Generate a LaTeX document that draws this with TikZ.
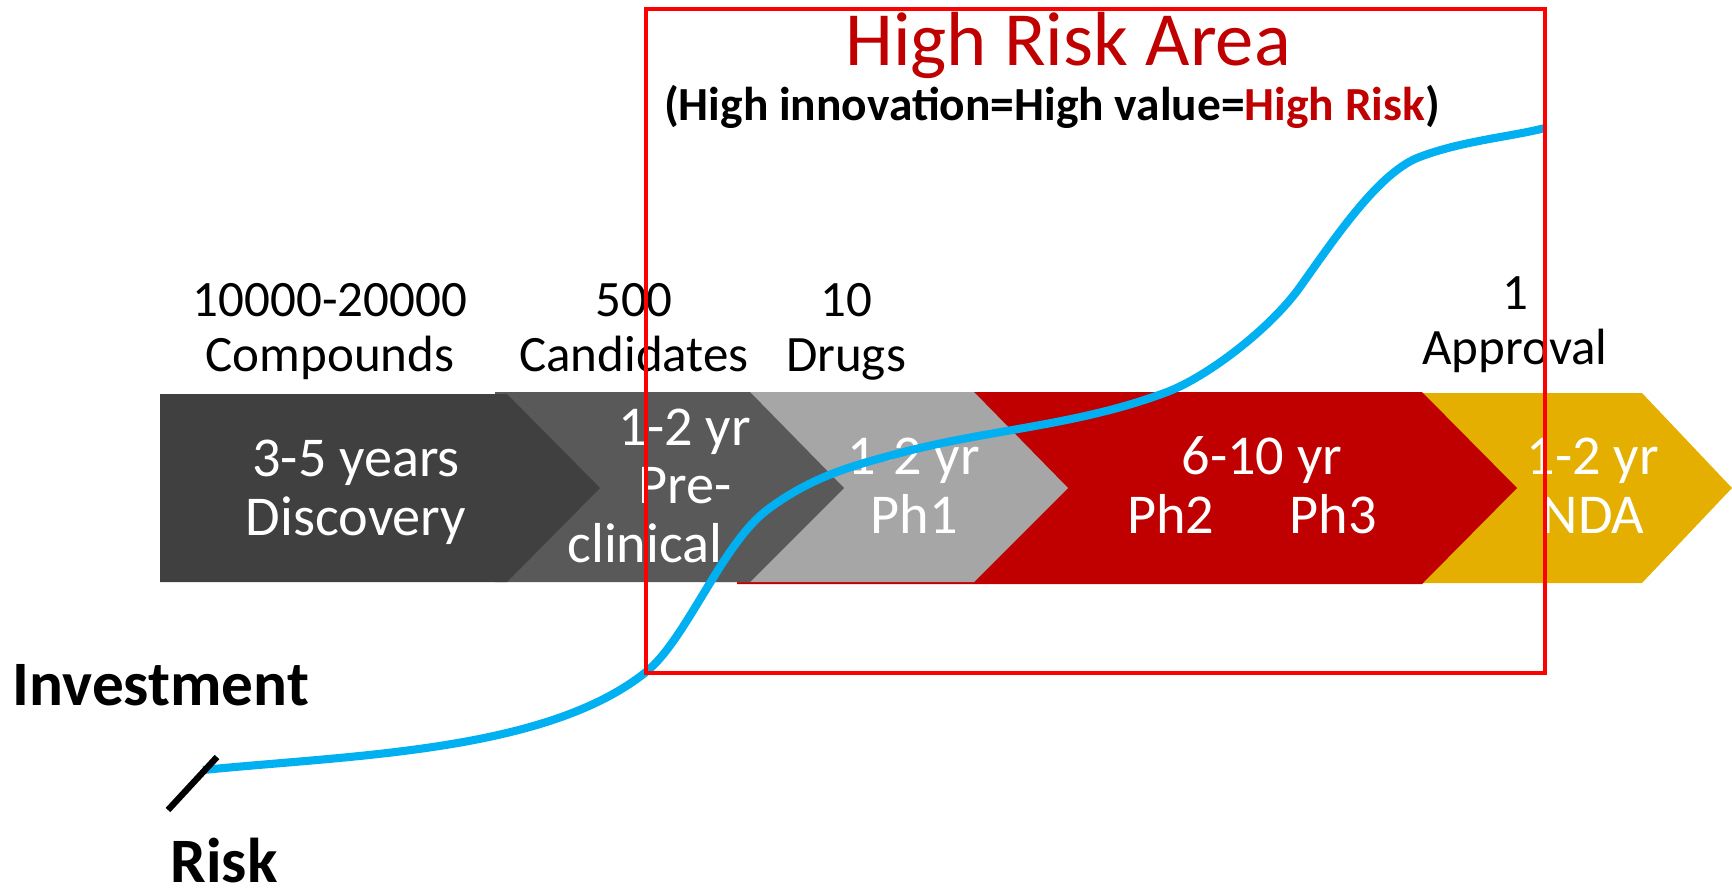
\documentclass[tikz,border=0pt]{standalone}
\usepackage{fontspec}
\setmainfont{Carlito}
\usepackage{tikz, xcolor}

\definecolor{stagedark}{HTML}{404040}
\definecolor{stagemid}{HTML}{595959}
\definecolor{stagelight}{HTML}{A6A6A6}
\definecolor{stagered}{HTML}{C00000}
\definecolor{stagegold}{HTML}{E5AF00}
\definecolor{curveblue}{HTML}{00B0F0}
\definecolor{framered}{HTML}{FF0000}

\begin{document}
\begin{tikzpicture}[x=0.01cm, y=-0.01cm]
\tikzstyle{stagetext}=[text=white, font=\fontsize{16}{16.5}\selectfont, align=center, inner sep=0pt, anchor=base]
\tikzstyle{counttext}=[text=black, font=\fontsize{14.5}{15.6}\selectfont, align=center, inner sep=0pt, anchor=base]
\tikzstyle{axistext}=[text=black, font=\fontsize{18}{19}\selectfont\bfseries, inner sep=0pt, anchor=base west]
\tikzstyle{riskframe}=[draw=framered, line width=1.3pt]
\tikzstyle{curvestyle}=[draw=curveblue, line width=2.3pt, line join=round]

\useasboundingbox (0,0) rectangle (1732,890);

% pipeline stages, back to front
\fill[stagegold] (1400,393) -- (1642,393) -- (1732,488) -- (1642,583) -- (1400,583) -- cycle;
\fill[stagered] (737,392) -- (1422,392) -- (1517,488) -- (1422,584) -- (737,584) -- cycle;
\fill[stagelight] (700,392) -- (974,392) -- (1068,488) -- (974,582) -- (700,582) -- cycle;
\fill[stagemid] (495,392) -- (750,392) -- (844,488) -- (750,582) -- (495,582) -- cycle;
\fill[stagedark] (160,394) -- (507,394) -- (600,488) -- (507,582) -- (160,582) -- cycle;

% base anchor sits on the last line
\node[stagetext] (disc) at (356,535) {3-5 years\\Discovery};
\node[stagetext] (precl) at (685,562) {1-2 yr\\Pre-\\clinical\hspace*{0.8cm}};
\node[stagetext] (ph1) at (914,533) {1-2 yr\\Ph1};
\node[stagetext] (ph23) at (1252,533) {\hspace*{0.2cm}6-10 yr\\Ph2\hspace{0.75cm}Ph3};
\node[stagetext] (nda) at (1593,533) {1-2 yr\\NDA};

% numbers above the stages
\node[counttext] (cmpd) at (330,371) {10000-20000\\Compounds};
\node[counttext] (cand) at (634,371) {500\\Candidates};
\node[counttext] (drug) at (846,371) {10\\Drugs};
\node[counttext] (appr) at (1515,364) {1\\Approval};

% heading
\node[text=stagered, font=\fontsize{21.8}{24}\selectfont, inner sep=0pt, anchor=base] (head) at (1068,65) {High Risk Area};
\node[text=black, font=\fontsize{13.5}{15}\selectfont\bfseries, inner sep=0pt, anchor=base] (sub) at (1052,120) {(High innovation=High value=\textcolor{stagered}{High Risk})};

\node[axistext] (inv) at (12,705) {Investment};
\node[axistext] (risk) at (170,882) {Risk};

% investment curve
\draw[curvestyle] (203,770) .. controls (353,755) and (546,752) .. (646,672)
  .. controls (686,640) and (722,544) .. (767,510)
  .. controls (812,476) and (855,465) .. (900,453)
  .. controls (990,429) and (1077,426) .. (1167,392)
  .. controls (1207,377) and (1270,329) .. (1300,287)
  .. controls (1335,238) and (1377,175) .. (1417,158)
  .. controls (1460,141) and (1510,137) .. (1545,128);
\draw[black, line width=1.8pt] (168,810) -- (217,757);

\draw[riskframe] (646,9) rectangle (1545,673);
\end{tikzpicture}
\end{document}
